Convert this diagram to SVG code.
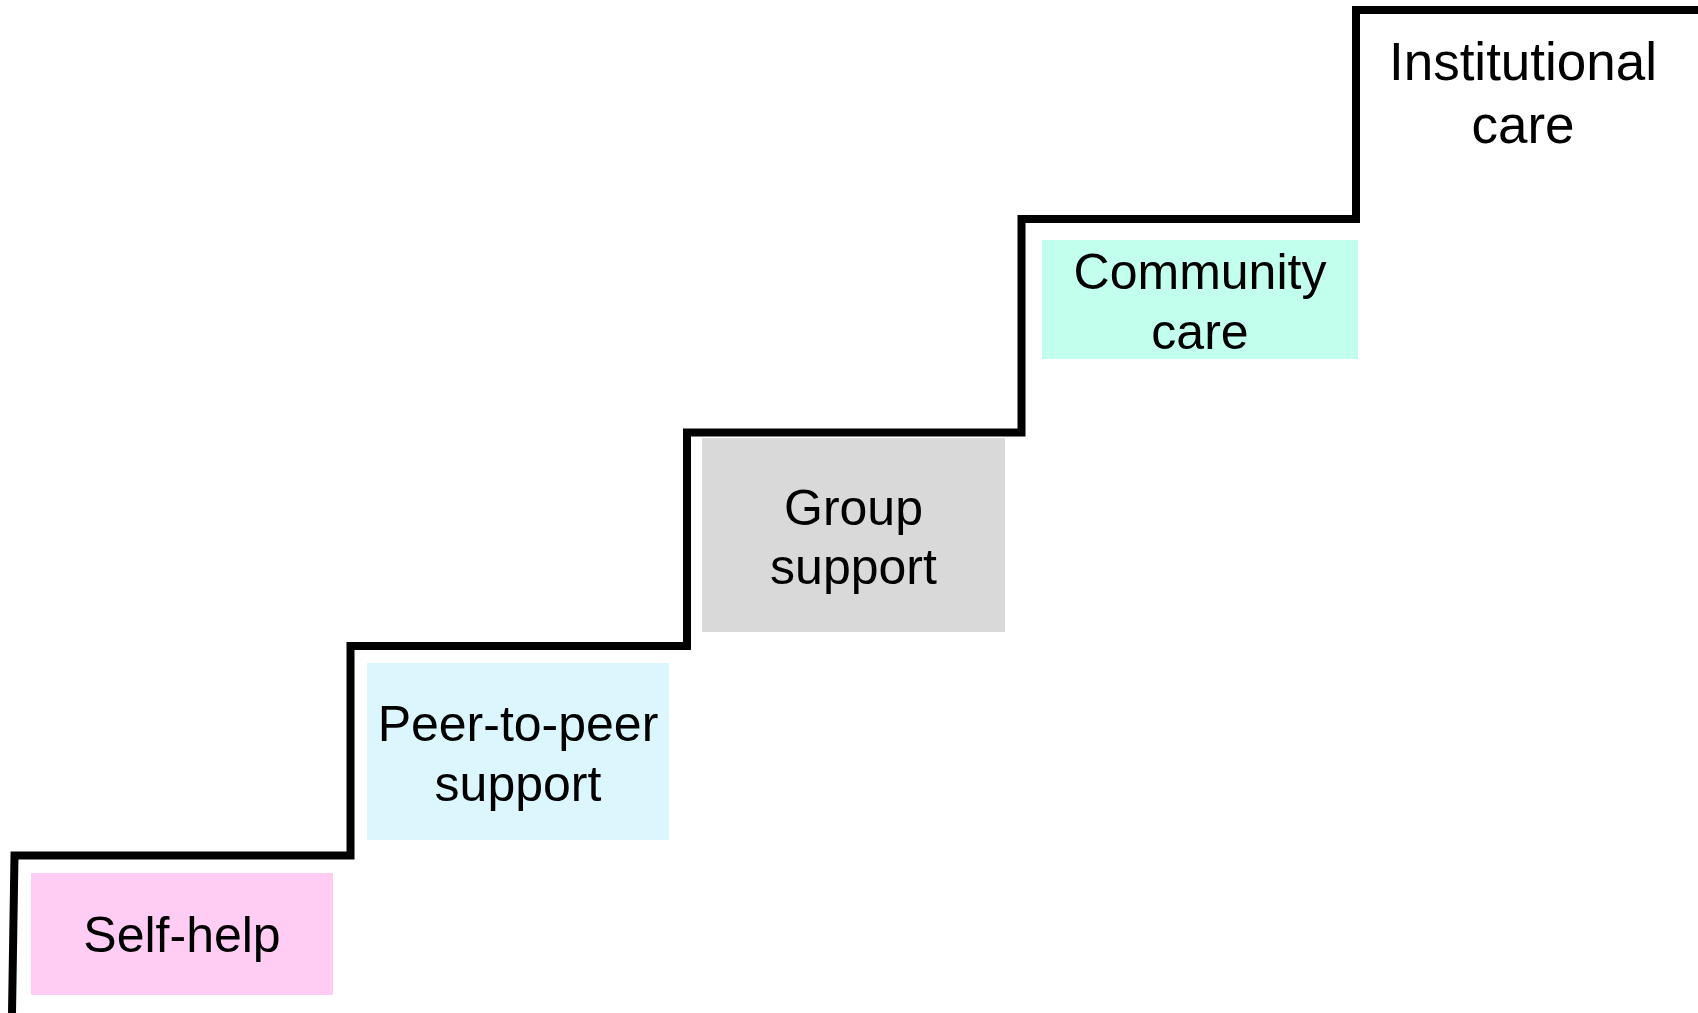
<svg xmlns="http://www.w3.org/2000/svg" width="1698" height="1013" viewBox="0 0 1698 1013">
<style>
  .lbl { font-family: "Liberation Sans", Arial, sans-serif; font-size: 50px; fill: #000; text-anchor: middle; }
  .stair { fill: none; stroke: #000; stroke-width: 8; stroke-linejoin: miter; }
</style>
<rect x="0" y="0" width="1698" height="1013" fill="#fff"/>
<g id="connectors">
  <path class="stair" d="M12,1013 L14.5,855.5 L350.5,855.5 L350.5,646 L687,646 L687,432.5 L1021.5,432.5 L1021.5,219 L1356,219 L1356,10 L1698,10"/>
</g>
<g id="self-help">
  <rect x="31" y="873" width="302" height="122" fill="#FFCCF4"/>
  <text class="lbl" x="182" y="952">Self-help</text>
</g>
<g id="peer-to-peer">
  <rect x="367" y="663" width="302" height="177" fill="#DBF6FC"/>
  <text class="lbl" x="518" y="741">Peer-to-peer</text>
  <text class="lbl" x="518" y="801">support</text>
</g>
<g id="group-support">
  <rect x="702" y="438" width="303" height="194" fill="#D9D9D9"/>
  <text class="lbl" x="853.5" y="525">Group</text>
  <text class="lbl" x="853.5" y="584">support</text>
</g>
<g id="community-care">
  <rect x="1042" y="240" width="316" height="119" fill="#C2FFEC"/>
  <text class="lbl" x="1200" y="289">Community</text>
  <text class="lbl" x="1200" y="349">care</text>
</g>
<g id="institutional-care">
  <text class="lbl" x="1523" y="80" style="font-size:53px">Institutional</text>
  <text class="lbl" x="1523" y="143" style="font-size:53px">care</text>
</g>
</svg>
